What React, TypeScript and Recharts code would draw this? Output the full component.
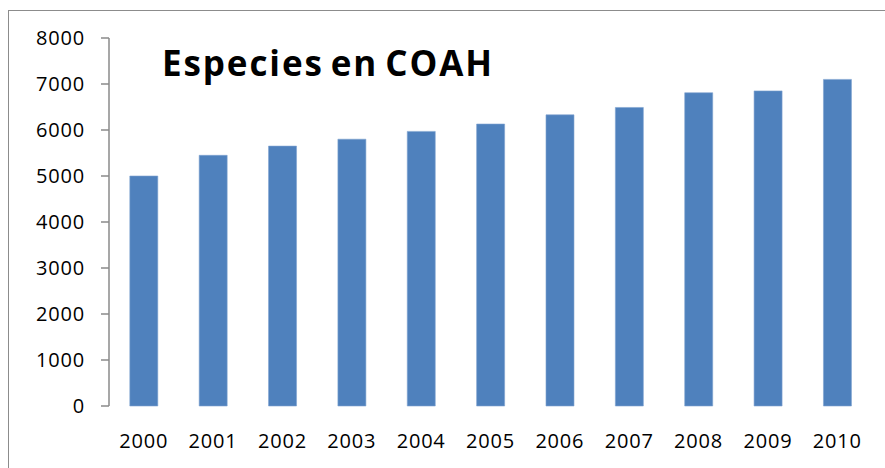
import React from 'react';
import { BarChart, Bar, XAxis, YAxis } from 'recharts';

const years = ['2000', '2001', '2002', '2003', '2004', '2005', '2006', '2007', '2008', '2009', '2010'];
const especies = [5000, 5450, 5650, 5800, 5970, 6130, 6330, 6490, 6810, 6850, 7100];
const yTicks = [0, 1000, 2000, 3000, 4000, 5000, 6000, 7000, 8000];
const boundaryTicks = [0, 1, 2, 3, 4, 5, 6, 7, 8, 9, 10, 11];
const title = 'Especies en COAH';

const data = years.map((y, i) => ({ year: y, value: especies[i], idx: i + 0.5 }));

const tickFont = { fontFamily: 'Open Sans', fontSize: 20, fill: '#000', letterSpacing: 0.8 };
const axisColor = '#8a8a8a';

export default function App() {
  return (
    <div style={{ position: 'absolute', left: 0, top: 0, width: 885, height: 468, overflow: 'hidden', background: '#fff' }}>
      <div style={{ position: 'absolute', left: 8, top: 10, width: 1000, height: 600, border: '1.5px solid #8c8c8c' }} />
      <div style={{ position: 'absolute', left: 0, top: 0 }}>
        <BarChart width={885} height={468} data={data} margin={{ top: 38, right: 13, bottom: 32, left: 0 }} barCategoryGap="30%">
          <XAxis
            xAxisId="ticks"
            type="number"
            dataKey="idx"
            domain={[0, 11]}
            ticks={boundaryTicks}
            height={0}
            tick={false}
            tickSize={7}
            axisLine={{ stroke: axisColor, strokeWidth: 1.5 }}
            tickLine={{ stroke: axisColor, strokeWidth: 1.5 }}
            allowDataOverflow
          />
          <XAxis
            xAxisId="cat"
            dataKey="year"
            height={30}
            axisLine={false}
            tickLine={false}
            tickSize={0}
            tickMargin={28}
            tick={tickFont}
            interval={0}
          />
          <YAxis
            width={109}
            domain={[0, 8000]}
            ticks={yTicks}
            interval={0}
            tickSize={8}
            tickMargin={16}
            tick={tickFont}
            axisLine={{ stroke: axisColor, strokeWidth: 1.5 }}
            tickLine={{ stroke: axisColor, strokeWidth: 1.5 }}
          />
          <Bar xAxisId="cat" dataKey="value" fill="#4F81BD" stroke="#7fa3d0" strokeWidth={0.6} isAnimationActive={false} />
        </BarChart>
      </div>
      <div style={{ position: 'absolute', left: 162, top: 40, fontFamily: 'Open Sans', fontWeight: 700, fontSize: 35, letterSpacing: 1.9, wordSpacing: -4, color: '#000', whiteSpace: 'nowrap', lineHeight: '46px' }}>
        {title}
      </div>
    </div>
  );
}
